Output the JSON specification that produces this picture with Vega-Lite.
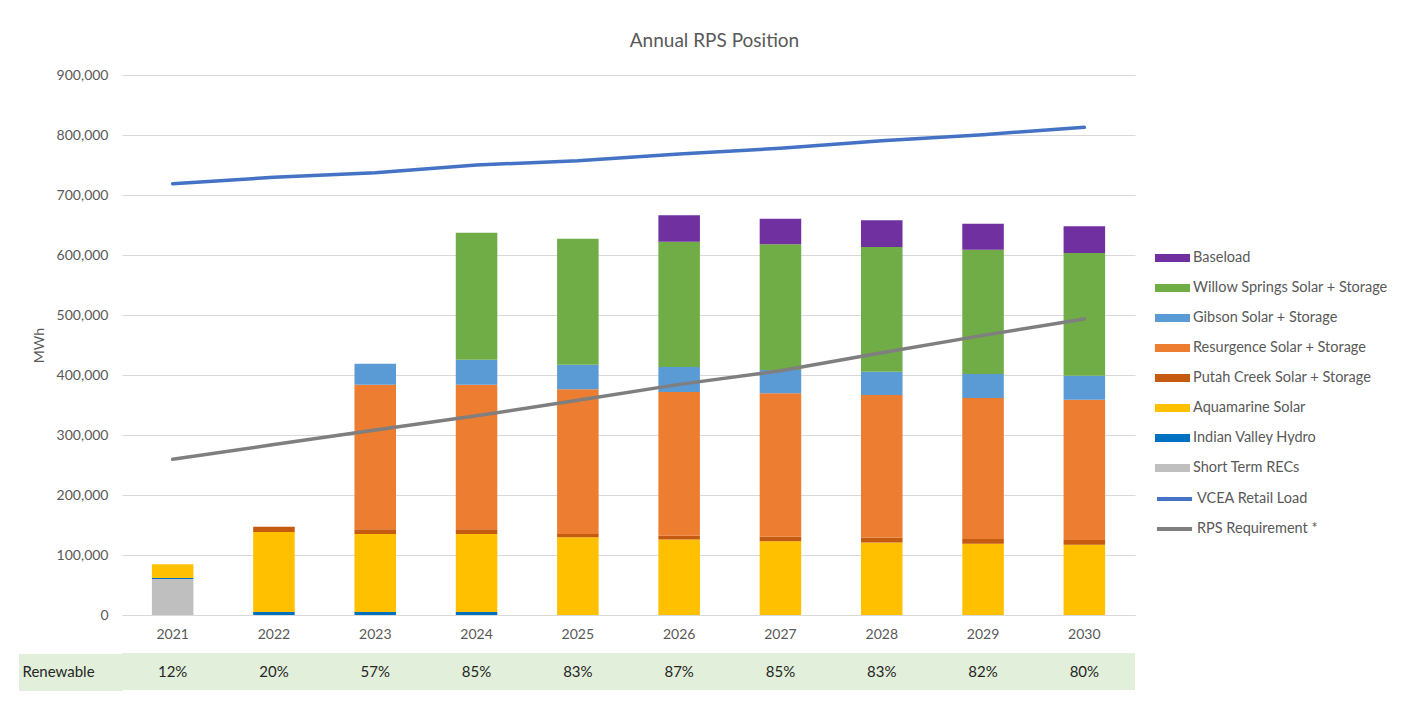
{
  "$schema": "https://vega.github.io/schema/vega-lite/v6.json",
  "padding": {"left": 0, "top": 32, "right": 5, "bottom": 5},
  "bounds": "flush",
  "spacing": 38,
  "config": {
    "font": "Lato",
    "view": {"stroke": null},
    "axis": {"labelFont": "Lato", "titleFont": "Lato", "labelColor": "#595959", "titleColor": "#595959", "labelFontSize": 14, "titleFontSize": 14, "titleFontWeight": "normal"},
    "legend": {"labelFont": "Lato", "labelFontSize": 14.5, "labelColor": "#595959", "padding": 0, "labelLimit": 400}
  },
  "datasets": {
    "bars": [
      {"year": "2021", "source": "Short Term RECs", "mwh": 60000},
      {"year": "2021", "source": "Indian Valley Hydro", "mwh": 1500},
      {"year": "2021", "source": "Aquamarine Solar", "mwh": 23000},
      {"year": "2022", "source": "Indian Valley Hydro", "mwh": 5000},
      {"year": "2022", "source": "Aquamarine Solar", "mwh": 133500},
      {"year": "2022", "source": "Putah Creek Solar + Storage", "mwh": 8500},
      {"year": "2023", "source": "Indian Valley Hydro", "mwh": 5000},
      {"year": "2023", "source": "Aquamarine Solar", "mwh": 130000},
      {"year": "2023", "source": "Putah Creek Solar + Storage", "mwh": 8000},
      {"year": "2023", "source": "Resurgence Solar + Storage", "mwh": 240900},
      {"year": "2023", "source": "Gibson Solar + Storage", "mwh": 35000},
      {"year": "2024", "source": "Indian Valley Hydro", "mwh": 5000},
      {"year": "2024", "source": "Aquamarine Solar", "mwh": 130000},
      {"year": "2024", "source": "Putah Creek Solar + Storage", "mwh": 8000},
      {"year": "2024", "source": "Resurgence Solar + Storage", "mwh": 240900},
      {"year": "2024", "source": "Gibson Solar + Storage", "mwh": 41700},
      {"year": "2024", "source": "Willow Springs Solar + Storage", "mwh": 211400},
      {"year": "2025", "source": "Aquamarine Solar", "mwh": 129400},
      {"year": "2025", "source": "Putah Creek Solar + Storage", "mwh": 5600},
      {"year": "2025", "source": "Resurgence Solar + Storage", "mwh": 241100},
      {"year": "2025", "source": "Gibson Solar + Storage", "mwh": 41100},
      {"year": "2025", "source": "Willow Springs Solar + Storage", "mwh": 210000},
      {"year": "2026", "source": "Aquamarine Solar", "mwh": 126000},
      {"year": "2026", "source": "Putah Creek Solar + Storage", "mwh": 6000},
      {"year": "2026", "source": "Resurgence Solar + Storage", "mwh": 239700},
      {"year": "2026", "source": "Gibson Solar + Storage", "mwh": 41600},
      {"year": "2026", "source": "Willow Springs Solar + Storage", "mwh": 208900},
      {"year": "2026", "source": "Baseload", "mwh": 43900},
      {"year": "2027", "source": "Aquamarine Solar", "mwh": 122800},
      {"year": "2027", "source": "Putah Creek Solar + Storage", "mwh": 7700},
      {"year": "2027", "source": "Resurgence Solar + Storage", "mwh": 238900},
      {"year": "2027", "source": "Gibson Solar + Storage", "mwh": 38900},
      {"year": "2027", "source": "Willow Springs Solar + Storage", "mwh": 209500},
      {"year": "2027", "source": "Baseload", "mwh": 42800},
      {"year": "2028", "source": "Aquamarine Solar", "mwh": 121000},
      {"year": "2028", "source": "Putah Creek Solar + Storage", "mwh": 8000},
      {"year": "2028", "source": "Resurgence Solar + Storage", "mwh": 237700},
      {"year": "2028", "source": "Gibson Solar + Storage", "mwh": 38900},
      {"year": "2028", "source": "Willow Springs Solar + Storage", "mwh": 207700},
      {"year": "2028", "source": "Baseload", "mwh": 44500},
      {"year": "2029", "source": "Aquamarine Solar", "mwh": 118900},
      {"year": "2029", "source": "Putah Creek Solar + Storage", "mwh": 7800},
      {"year": "2029", "source": "Resurgence Solar + Storage", "mwh": 235000},
      {"year": "2029", "source": "Gibson Solar + Storage", "mwh": 40000},
      {"year": "2029", "source": "Willow Springs Solar + Storage", "mwh": 207200},
      {"year": "2029", "source": "Baseload", "mwh": 43300},
      {"year": "2030", "source": "Aquamarine Solar", "mwh": 117200},
      {"year": "2030", "source": "Putah Creek Solar + Storage", "mwh": 7800},
      {"year": "2030", "source": "Resurgence Solar + Storage", "mwh": 233900},
      {"year": "2030", "source": "Gibson Solar + Storage", "mwh": 40000},
      {"year": "2030", "source": "Willow Springs Solar + Storage", "mwh": 204400},
      {"year": "2030", "source": "Baseload", "mwh": 44500}
    ],
    "lines": [
      {"year": "2021", "series": "VCEA Retail Load", "mwh": 718900},
      {"year": "2022", "series": "VCEA Retail Load", "mwh": 729400},
      {"year": "2023", "series": "VCEA Retail Load", "mwh": 737200},
      {"year": "2024", "series": "VCEA Retail Load", "mwh": 750000},
      {"year": "2025", "series": "VCEA Retail Load", "mwh": 757200},
      {"year": "2026", "series": "VCEA Retail Load", "mwh": 768300},
      {"year": "2027", "series": "VCEA Retail Load", "mwh": 777800},
      {"year": "2028", "series": "VCEA Retail Load", "mwh": 790600},
      {"year": "2029", "series": "VCEA Retail Load", "mwh": 800600},
      {"year": "2030", "series": "VCEA Retail Load", "mwh": 812800},
      {"year": "2021", "series": "RPS Requirement *", "mwh": 259500},
      {"year": "2022", "series": "RPS Requirement *", "mwh": 284000},
      {"year": "2023", "series": "RPS Requirement *", "mwh": 308500},
      {"year": "2024", "series": "RPS Requirement *", "mwh": 332000},
      {"year": "2025", "series": "RPS Requirement *", "mwh": 357800},
      {"year": "2026", "series": "RPS Requirement *", "mwh": 384400},
      {"year": "2027", "series": "RPS Requirement *", "mwh": 407000},
      {"year": "2028", "series": "RPS Requirement *", "mwh": 437000},
      {"year": "2029", "series": "RPS Requirement *", "mwh": 466000},
      {"year": "2030", "series": "RPS Requirement *", "mwh": 493300}
    ],
    "renewable": [
      {"year": "2021", "row": "Renewable", "share": 0.12},
      {"year": "2022", "row": "Renewable", "share": 0.20},
      {"year": "2023", "row": "Renewable", "share": 0.57},
      {"year": "2024", "row": "Renewable", "share": 0.85},
      {"year": "2025", "row": "Renewable", "share": 0.83},
      {"year": "2026", "row": "Renewable", "share": 0.87},
      {"year": "2027", "row": "Renewable", "share": 0.85},
      {"year": "2028", "row": "Renewable", "share": 0.83},
      {"year": "2029", "row": "Renewable", "share": 0.82},
      {"year": "2030", "row": "Renewable", "share": 0.80}
    ]
  },
  "vconcat": [
    {
      "width": 1013,
      "height": 540,
      "title": {"text": "Annual RPS Position", "anchor": "middle", "dx": 86, "offset": 17, "font": "Lato", "fontSize": 19, "fontWeight": "normal", "color": "#595959"},
      "encoding": {
        "x": {
          "field": "year", "type": "ordinal",
          "scale": {"paddingInner": 0.59, "paddingOuter": 0.295},
          "axis": {"title": null, "labelAngle": 0, "ticks": false, "domainColor": "#D9D9D9", "labelPadding": 12}
        }
      },
      "layer": [
        {
          "data": {"name": "bars"},
          "transform": [
            {"calculate": "indexof(['Short Term RECs', 'Indian Valley Hydro', 'Aquamarine Solar', 'Putah Creek Solar + Storage', 'Resurgence Solar + Storage', 'Gibson Solar + Storage', 'Willow Springs Solar + Storage', 'Baseload'], datum.source)", "as": "stackRank"}
          ],
          "mark": {"type": "bar"},
          "encoding": {
            "y": {
              "field": "mwh", "type": "quantitative", "stack": "zero",
              "scale": {"domain": [0, 900000], "nice": false},
              "axis": {"title": "MWh", "values": [0, 100000, 200000, 300000, 400000, 500000, 600000, 700000, 800000, 900000], "format": ",.0f", "gridColor": "#D9D9D9", "domain": false, "ticks": false, "labelPadding": 14, "titlePadding": 10}
            },
            "order": {"field": "stackRank", "type": "quantitative", "sort": "ascending"},
            "fill": {
              "field": "source", "type": "nominal",
              "sort": ["Baseload", "Willow Springs Solar + Storage", "Gibson Solar + Storage", "Resurgence Solar + Storage", "Putah Creek Solar + Storage", "Aquamarine Solar", "Indian Valley Hydro", "Short Term RECs"],
              "scale": {
                "range": ["#7030A0", "#70AD47", "#5B9BD5", "#ED7D31", "#C55A11", "#FFC000", "#0070C0", "#BFBFBF"]
              },
              "legend": {"title": null, "orient": "none", "legendX": 1035.5, "legendY": 168, "symbolType": "M-1.17,-0.27H1.17V0.27H-1.17Z", "symbolSize": 900, "symbolStrokeWidth": 0, "labelOffset": 5.5, "rowPadding": 8}
            }
          }
        },
        {
          "data": {"name": "lines"},
          "mark": {"type": "line", "strokeWidth": 3.5, "strokeCap": "round"},
          "encoding": {
            "y": {"field": "mwh", "type": "quantitative"},
            "stroke": {
              "field": "series", "type": "nominal",
              "scale": {"domain": ["VCEA Retail Load", "RPS Requirement *"], "range": ["#4472C4", "#7F7F7F"]},
              "legend": {"title": null, "orient": "none", "legendX": 1035.5, "legendY": 407, "symbolType": "M-1.17,0H1.17", "symbolSize": 900, "symbolStrokeWidth": 4, "labelOffset": 5.5, "rowPadding": 5}
            }
          }
        }
      ]
    },
    {
      "data": {"name": "renewable"},
      "width": 1013,
      "height": 37,
      "view": {"fill": "#E2EFDA", "stroke": null},
      "mark": {"type": "text", "font": "Lato", "fontSize": 15, "color": "#262626"},
      "encoding": {
        "x": {"field": "year", "type": "ordinal", "scale": {"paddingInner": 0.59, "paddingOuter": 0.295}, "axis": null},
        "y": {"field": "row", "type": "nominal", "axis": {"title": null, "domain": false, "tickSize": 103.5, "tickWidth": 37, "tickColor": "#E2EFDA", "labelPadding": -3.5, "labelAlign": "left", "labelFontSize": 15, "labelColor": "#262626"}},
        "text": {"field": "share", "type": "quantitative", "format": ".0%"}
      }
    }
  ]
}
